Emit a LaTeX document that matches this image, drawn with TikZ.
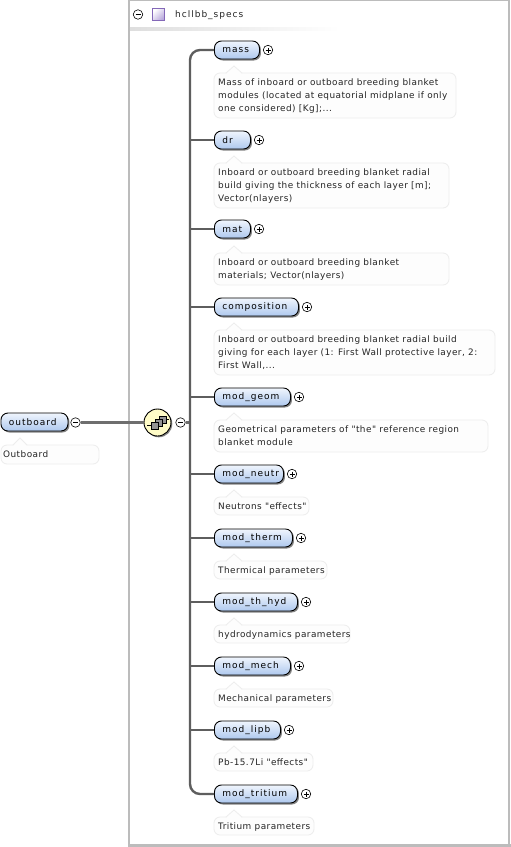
\documentclass[tikz,border=0pt]{standalone}
\usepackage{fontspec}
\setmainfont{DejaVu Sans}
\newfontfamily\lblfont[LetterSpace=11]{DejaVu Sans}
\newfontfamily\docfont[LetterSpace=5]{DejaVu Sans}
\usetikzlibrary{shadows,calc}
\definecolor{elemtop}{HTML}{F0F5FD}
\definecolor{elembot}{HTML}{AEC8EE}
\definecolor{wire}{HTML}{5E5E5E}
\definecolor{wirelight}{HTML}{6E6E6E}
\definecolor{frameg}{HTML}{BCBCBC}
\definecolor{docline}{HTML}{EDEDED}
\definecolor{docfill}{HTML}{FDFDFD}
\definecolor{txt}{HTML}{252525}
\definecolor{iconedge}{HTML}{8468B8}
\definecolor{iconfill}{HTML}{B8A8DC}
\tikzset{
  x=1pt,y=-1pt,
  elem/.style={draw=black,line width=0.9pt,rounded corners=7pt,top color=elemtop,bottom color=elembot,
    minimum height=18pt,inner sep=0pt,anchor=west,font=\lblfont\fontsize{9}{10}\selectfont,text=black,
    drop shadow={shadow xshift=1.5pt,shadow yshift=-1.5pt,fill=black!60,opacity=.8}},
  docbox/.style={draw=docline,line width=0.8pt,fill=docfill,rounded corners=6pt,inner sep=0pt},
  doctext/.style={anchor=north west,inner sep=0pt,align=left,font=\docfont\fontsize{8.9}{13}\selectfont,text=txt},
  toggle/.style={circle,draw=black,line width=0.6pt,fill=white,minimum size=9.5pt,inner sep=0pt},
  wireline/.style={draw=wire,line width=1.9pt},
  midline/.style={draw=wirelight,line width=2.2pt},
  bus/.style={draw=wire,line width=2.4pt,rounded corners=10pt},
}
% name, y top, right x, label, doc top, doc bottom, doc right, doc text
\newcommand{\elemrow}[8]{%
  \path[docbox] (214,#5) rectangle (#7,#6);
  \path[fill=docfill] (226,#5+1) -- (234,#5-7) -- (242,#5+1) -- cycle;
  \draw[docline,line width=.8pt] (226,#5) -- (234,#5-7) -- (242,#5);
  \node[doctext] (#1doc) at (218,#5+6) {#8};
  \node[elem,minimum width=#3pt-214pt] (#1) at (214,#2+9) {\makebox[\dimexpr#3pt-214pt\relax][l]{\hspace*{8pt}\raisebox{-1pt}{#4}}};
  \node[toggle] (#1tog) at (#3+9,#2+9) {};
  \draw[line width=.6pt] (#3+6.5,#2+9) -- (#3+11.5,#2+9) (#3+9,#2+6.5) -- (#3+9,#2+11.5);
  \coordinate (#1bus) at (190,#2+9);
}
\begin{document}
\begin{tikzpicture}
\useasboundingbox (0,0) rectangle (511,847);
\fill[white] (0,0) rectangle (511,847);
% frame
\draw[frameg,line width=2pt] (129,848) -- (129,0) -- (509.3,0) -- (509.3,848);
\fill[frameg] (128,844) rectangle (511,847);
\shade[left color=black!13,right color=white] (130,27.5) rectangle (340,30);
% header
\node[toggle] (hdrtog) at (138,14.5) {};
\draw[line width=.6pt] (135.5,14.5) -- (140.5,14.5);
\node[draw=iconedge,line width=.8pt,top color=white,bottom color=iconfill,shading angle=45,minimum size=12pt,inner sep=0pt] (hdricon) at (158.5,14.5) {};
\node[anchor=west,inner sep=0pt,font=\lblfont\fontsize{9}{10}\selectfont,text=txt] (hdr) at (175,15.5) {hcllbb\_specs};
% outboard
\path[docbox] (1,445) rectangle (99,464);
\path[fill=docfill] (13,446) -- (20,438) -- (27,446) -- cycle;
\draw[docline,line width=.8pt] (13,445) -- (20,438) -- (27,445);
\node[doctext] (outdoc) at (3,450.5) {Outboard};
\node[elem,minimum width=67pt] (outboard) at (0.5,422) {\makebox[67pt][l]{\hspace*{8pt}\raisebox{-1pt}{outboard}}};
\node[toggle] (outtog) at (75.5,422.5) {};
\draw[line width=.6pt] (73,422.5) -- (78,422.5);
\coordinate (busmid) at (190,422.5);
% sequence
\node[circle,draw=black,line width=.9pt,fill=yellow!22,minimum size=27pt,inner sep=0pt,
  drop shadow={shadow xshift=1.3pt,shadow yshift=-1.3pt,fill=black!60,opacity=.8}] (seq) at (157.5,422.5) {};
\node[toggle] (seqtog) at (180.5,422.5) {};
\draw[line width=.6pt] (178,422.5) -- (183,422.5);
\draw[midline] (outtog) -- (seq);
\draw[midline] (seqtog) -- (busmid);
\draw[black,line width=1pt] (147,425.5) -- (152,425.5) (165,419) -- (169,419);
\foreach \a/\b in {159/416,155/419,151/422}{
  \draw[black,line width=.6pt,fill=black!42] (\a,\b) rectangle ++(7,7);
}
% rows
\elemrow{mass}{41}{259}{mass}{73}{118}{456}{Mass of inboard or outboard breeding blanket\\modules (located at equatorial midplane if only\\one considered) [Kg];...}
\elemrow{dr}{131}{250}{dr}{163}{208}{449}{Inboard or outboard breeding blanket radial\\build giving the thickness of each layer [m];\\Vector(nlayers)}
\elemrow{mat}{220}{250}{mat}{253}{285}{449}{Inboard or outboard breeding blanket\\materials; Vector(nlayers)}
\elemrow{composition}{298}{298}{composition}{330}{375}{495}{Inboard or outboard breeding blanket radial build\\giving for each layer (1: First Wall protective layer, 2:\\First Wall,...}
\elemrow{modgeom}{388}{290}{mod\_geom}{420}{452}{488}{Geometrical parameters of "the" reference region\\blanket module}
\elemrow{modneutr}{465}{283}{mod\_neutr}{497}{515}{309}{Neutrons "effects"}
\elemrow{modtherm}{529}{292}{mod\_therm}{561}{579}{327}{Thermical parameters}
\elemrow{modthhyd}{593}{297}{mod\_th\_hyd}{625}{643}{350}{hydrodynamics parameters}
\elemrow{modmech}{657}{290}{mod\_mech}{689}{707}{333}{Mechanical parameters}
\elemrow{modlipb}{721}{280}{mod\_lipb}{753}{771}{313}{Pb-15.7Li "effects"}
\elemrow{modtritium}{785}{297}{mod\_tritium}{817}{835}{314}{Tritium parameters}
% bus
\draw[bus] (mass.west) -- (massbus) -- (modtritiumbus) -- (modtritium.west);
\foreach \n in {dr,mat,composition,modgeom,modneutr,modtherm,modthhyd,modmech,modlipb}{
  \draw[wireline] (\n bus) -- (\n.west);
}
\end{tikzpicture}
\end{document}
